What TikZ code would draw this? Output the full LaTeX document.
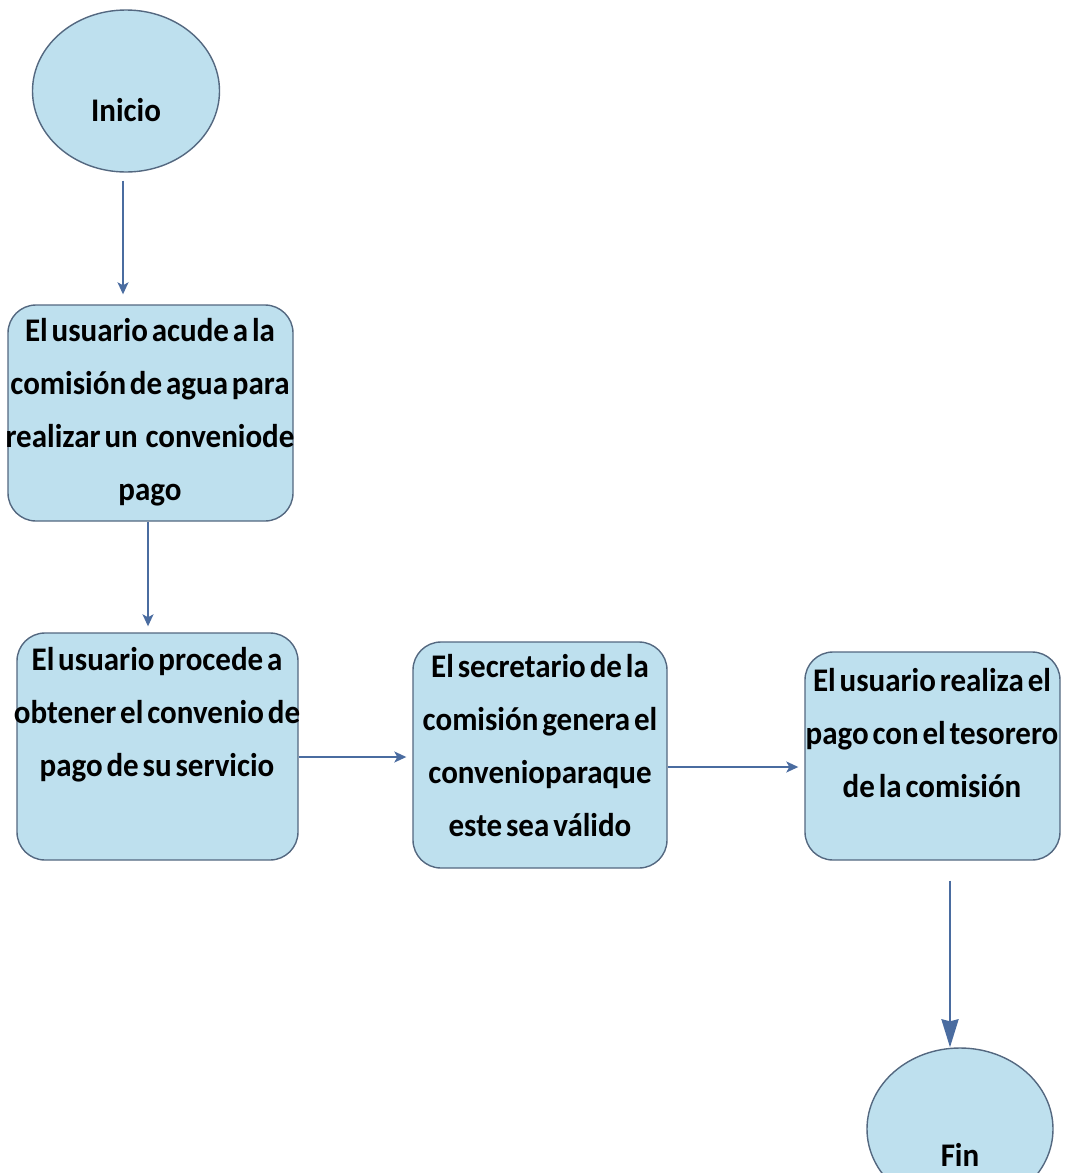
\documentclass[tikz,border=0pt]{standalone}
\usepackage{fontspec}
\setmainfont{Carlito}[WordSpace=0.55,FakeStretch=0.94]
\usetikzlibrary{shapes.geometric,arrows.meta}
\definecolor{boxfill}{RGB}{190,224,238}
\definecolor{boxdraw}{RGB}{84,104,128}
\definecolor{arrcol}{RGB}{74,108,160}
\begin{document}
\begin{tikzpicture}[x=0.5pt,y=-0.5pt,
 stepbox/.style={draw=boxdraw,line width=0.7pt,fill=boxfill,rounded corners=14pt,inner sep=0pt},
 term/.style={draw=boxdraw,line width=0.7pt,fill=boxfill,ellipse,inner sep=0pt},
 txt/.style={font=\bfseries\fontsize{16.5}{26.5}\selectfont,align=center,inner sep=0pt},
 arr/.style={draw=arrcol,line width=0.8pt,-{Stealth[length=6pt,width=5.5pt,inset=1.5pt]}},
 bigarr/.style={draw=arrcol,line width=1.2pt,-{Stealth[length=14pt,width=8.5pt,inset=1pt]}}]
\clip (0,0) rectangle (1067,1173);
\fill[white] (0,0) rectangle (1067,1173);
% terminals
\node[term,minimum width=93.5pt,minimum height=81pt] (ini) at (126,91) {};
\node[txt] (tini) at (126,110) {Inicio};
\node[term,minimum width=93pt,minimum height=81pt] (fin) at (960,1129) {};
\node[txt] (tfin) at (960,1155) {Fin};
% boxes
\node[stepbox,minimum width=142.5pt,minimum height=108pt] (b1) at (150.5,413) {};
\node[txt] (t1) at (150,412) {El usuario acude a la\\comisión de agua para\\realizar un~ conveniode\\pago};
\node[stepbox,minimum width=140.5pt,minimum height=113.5pt] (b2) at (157.5,746.5) {};
\node[txt] (t2) at (157,715) {El usuario procede a\\obtener el convenio de\\pago de su servicio};
\node[stepbox,minimum width=127pt,minimum height=113pt] (b3) at (540,755) {};
\node[txt] (t3) at (540,746) {El secretario de la\\comisión genera el\\convenioparaque\\este sea válido};
\node[stepbox,minimum width=127.5pt,minimum height=104pt] (b4) at (932.5,756) {};
\node[txt] (t4) at (932,733) {El usuario realiza el\\pago con el tesorero\\de la comisión};
% connectors
\coordinate (c1) at (123,0);
\draw[arr,shorten <=4pt,shorten >=5pt] (ini.south -| c1) -- (b1.north -| c1);
\coordinate (c2) at (148,0);
\draw[arr,shorten >=3pt] (b1.south -| c2) -- (b2.north -| c2);
\coordinate (c3) at (0,757);
\draw[arr,shorten >=3pt] (b2.east |- c3) -- (b3.west |- c3);
\coordinate (c4) at (0,767);
\draw[arr,shorten >=3pt] (b3.east |- c4) -- (b4.west |- c4);
\coordinate (c5) at (950,0);
\draw[bigarr,shorten <=10pt] (b4.south -| c5) -- (fin.north -| c5);
\end{tikzpicture}
\end{document}
